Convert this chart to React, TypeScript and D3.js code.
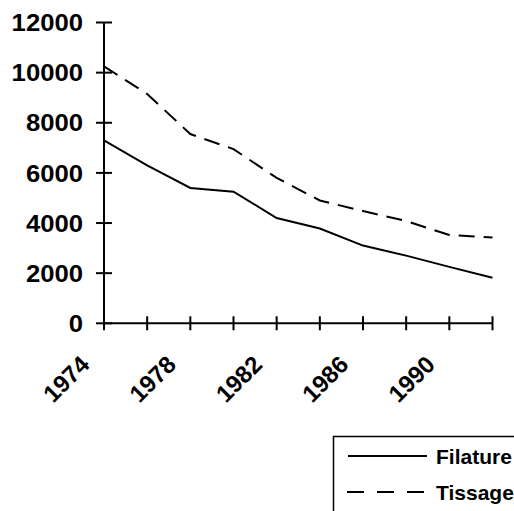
import React from 'react'
import * as d3 from 'd3'

const years = [1974, 1976, 1978, 1980, 1982, 1984, 1986, 1988, 1990, 1992]
const filature = [7300, 6300, 5400, 5250, 4200, 3780, 3100, 2700, 2250, 1820]
const tissage = [10250, 9150, 7550, 6950, 5800, 4900, 4480, 4080, 3520, 3420]
const yTicks = [0, 2000, 4000, 6000, 8000, 10000, 12000]
const xLabels = [1974, 1978, 1982, 1986, 1990]

const font = '"Liberation Sans", Arial, sans-serif'

const App = () => {
	const width = 514,
		height = 511

	const x = d3.scaleLinear().domain([1974, 1992]).range([104, 492.5])
	const y = d3.scaleLinear().domain([0, 12000]).range([323.3, 22.5])

	const line = d3
		.line<number>()
		.x((d, i) => x(years[i]))
		.y((d) => y(d))

	return (
		<svg
			width={width}
			height={height}
			style={{ position: 'absolute', left: 0, top: 0 }}
			fontFamily={font}
			fontWeight="bold"
		>
			<rect width={width} height={height} fill="#fff" />
			{/* y axis */}
			<line x1={x(1974)} x2={x(1974)} y1={y(12000)} y2={y(0)} stroke="#000" strokeWidth={2} />
			{yTicks.map((t) => (
				<g key={t}>
					<line x1={x(1974) - 8} x2={x(1974) + 8} y1={y(t)} y2={y(t)} stroke="#000" strokeWidth={2} />
					<text
						transform={`translate(83,${y(t)}) scale(1.07,1)`}
						dy="0.36em"
						textAnchor="end"
						fontSize={24}
					>
						{t}
					</text>
				</g>
			))}
			{/* x axis */}
			<line x1={x(1974)} x2={x(1992)} y1={y(0)} y2={y(0)} stroke="#000" strokeWidth={2} />
			{years.map((yr) => (
				<line key={yr} x1={x(yr)} x2={x(yr)} y1={y(0) - 7} y2={y(0) + 7} stroke="#000" strokeWidth={2} />
			))}
			{xLabels.map((yr) => (
				<text
					key={yr}
					transform={`translate(${x(yr) - 13},${366}) rotate(-45)`}
					textAnchor="end"
					fontSize={24}
				>
					{yr}
				</text>
			))}
			{/* series */}
			<path d={line(filature)!} fill="none" stroke="#000" strokeWidth={2} />
			<path d={line(tissage)!} fill="none" stroke="#000" strokeWidth={2} strokeDasharray="16,9" />
			{/* legend */}
			<rect x={333.5} y={436.5} width={200} height={100} fill="#fff" stroke="#000" strokeWidth={1.5} />
			<line x1={348} x2={427} y1={456} y2={456} stroke="#000" strokeWidth={2} />
			<text x={436} y={456} dy="0.36em" fontSize={21}>
				Filature
			</text>
			<line x1={347} x2={427} y1={492} y2={492} stroke="#000" strokeWidth={2} strokeDasharray="17,13" />
			<text x={436} y={492} dy="0.36em" fontSize={21}>
				Tissage
			</text>
		</svg>
	)
}

export default App
